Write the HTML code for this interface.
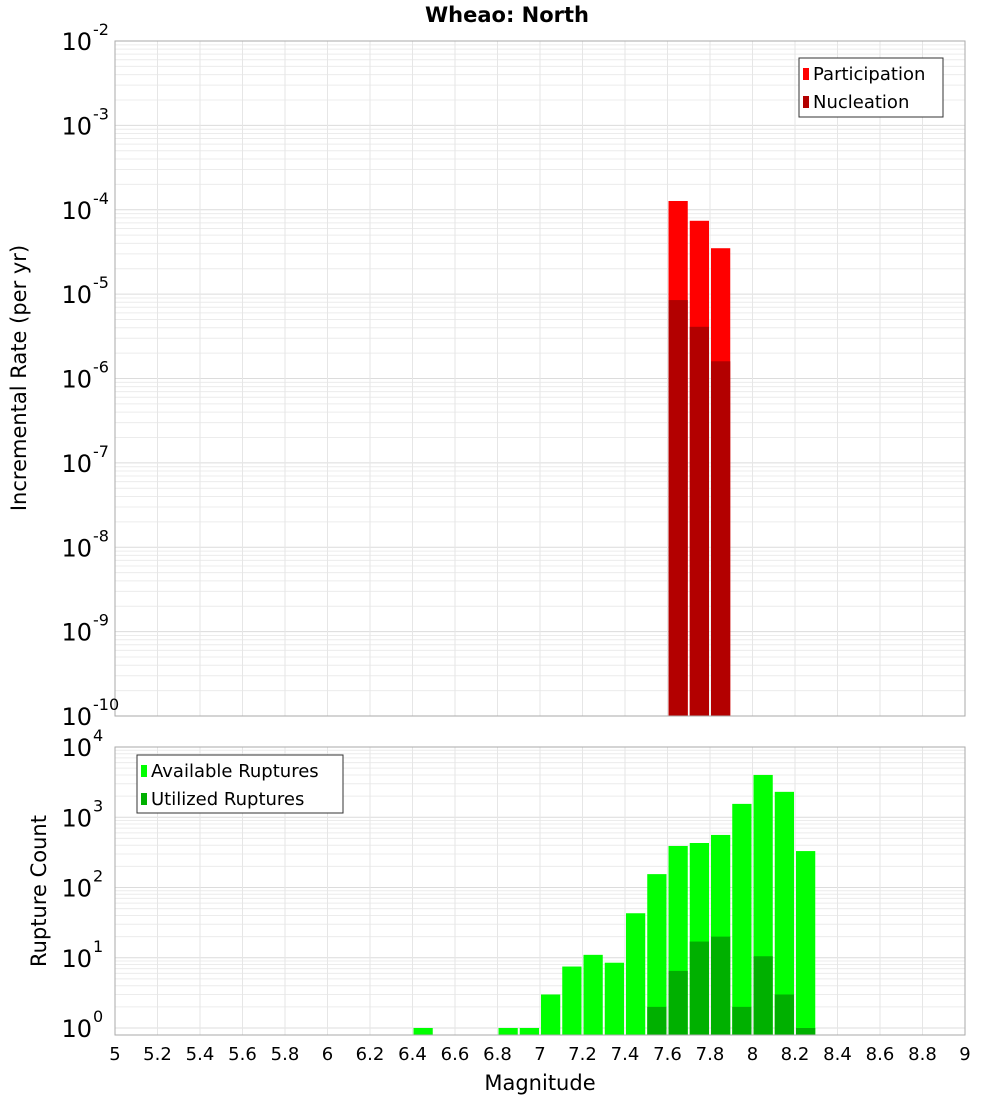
<!DOCTYPE html>
<html><head><meta charset="utf-8"><style>
body{margin:0;background:#fff;font-family:"Liberation Sans","DejaVu Sans",sans-serif}
svg text{font-family:"DejaVu Sans","Liberation Sans",sans-serif}
</style></head><body>
<svg id="c" width="1000" height="1100" xmlns="http://www.w3.org/2000/svg">
<text x="507" y="22" text-anchor="middle" font-size="21" font-weight="bold">Wheao: North</text>
<g id="top"></g>
<g id="bot"></g>
<text transform="translate(26,378) rotate(-90)" text-anchor="middle" font-size="21">Incremental Rate (per yr)</text>
<text transform="translate(46,891) rotate(-90)" text-anchor="middle" font-size="21">Rupture Count</text>
<text x="540" y="1090" text-anchor="middle" font-size="21">Magnitude</text>
</svg>
<script>
const binStarts = [7.6, 7.7, 7.8];
const participation = [1.27e-4, 7.4e-5, 3.5e-5];
const nucleation = [8.5e-6, 4.1e-6, 1.6e-6];
const countBins = [6.4, 6.8, 6.9, 7.0, 7.1, 7.2, 7.3, 7.4, 7.5, 7.6, 7.7, 7.8, 7.9, 8.0, 8.1, 8.2];
const available = [1, 1, 1, 3, 7.5, 11, 8.5, 43, 155, 390, 430, 560, 1550, 4000, 2300, 330];
const utilized = [0, 0, 0, 0, 0, 0, 0, 0, 2, 6.5, 17, 20, 2, 10.5, 3, 1];
const xTicks = [5,5.2,5.4,5.6,5.8,6,6.2,6.4,6.6,6.8,7,7.2,7.4,7.6,7.8,8,8.2,8.4,8.6,8.8,9];
const topDecades = [-10,-9,-8,-7,-6,-5,-4,-3,-2];
const botDecades = [0,1,2,3,4];

const NS="http://www.w3.org/2000/svg";
const X0=115,X1=965;
const xs=m=>X0+(m-5)/4*(X1-X0);
const yTop=v=>41+(-2-Math.log10(v))*(675/8);
const yBot=v=>1028-Math.log10(v)*70.25;
function mk(p,t,a){const e=document.createElementNS(NS,t);for(const k in a)e.setAttribute(k,a[k]);p.appendChild(e);return e;}
function grid(g,yt,y0,y1,decs){
  for(let d=decs[0];d<decs[decs.length-1];d++)for(let k=1;k<10;k++){const y=yt(k*Math.pow(10,d));if(y<y0||y>y1)continue;
    const l=mk(g,'line',{x1:X0,x2:X1,y1:y,y2:y,stroke:k==1?'#dcdcdc':'#ececec','stroke-width':1});
    }
  {const y=yt(Math.pow(10,-0.1));}
  xTicks.forEach(t=>{const l=mk(g,'line',{x1:xs(t),x2:xs(t),y1:y0,y2:y1,stroke:'#e6e6e6'});
    });
}
function ylabels(g,yt,decs){
  decs.forEach(d=>{const y=yt(Math.pow(10,d));const t=mk(g,'text',{x:92,y:y+9,'text-anchor':'end','font-size':24});
    t.textContent='10';
    const s=mk(g,'text',{x:93,y:y-6,'font-size':16});s.textContent=String(d);
    });
}
// top
const T=document.getElementById('top');
grid(T,yTop,41,716,topDecades);
binStarts.forEach((b,i)=>{
  const x=xs(b)+1,w=xs(b+0.1)-xs(b)-2;
  let r=mk(T,'rect',{x,y:yTop(participation[i]),width:w,height:716-yTop(participation[i]),fill:'#ff0000'});
  
  r=mk(T,'rect',{x,y:yTop(nucleation[i]),width:w,height:716-yTop(nucleation[i]),fill:'#b30000'});
  
});
let f=mk(T,'rect',{x:X0,y:41,width:X1-X0,height:675,fill:'none',stroke:'#aaa'});

ylabels(T,yTop,topDecades);
// bottom
const B=document.getElementById('bot');
grid(B,yBot,747,1035,botDecades);
countBins.forEach((b,i)=>{
  const x=xs(b)+1,w=xs(b+0.1)-xs(b)-2;
  let r=mk(B,'rect',{x,y:yBot(available[i]),width:w,height:1035-yBot(available[i]),fill:'#00ff00'});
  
  if(utilized[i]>0){r=mk(B,'rect',{x,y:yBot(utilized[i]),width:w,height:1035-yBot(utilized[i]),fill:'#00b000'});
  }
});
f=mk(B,'rect',{x:X0,y:747,width:X1-X0,height:288,fill:'none',stroke:'#aaa'});

ylabels(B,yBot,botDecades);
xTicks.forEach(t=>{const e=mk(B,'text',{x:xs(t),y:1060,'text-anchor':'middle','font-size':18});e.textContent=String(t);
  });
// legends
function legend(g,x,y,w,h,items){
  const lg=mk(g,'g',{});
  mk(lg,'rect',{x,y,width:w,height:h,fill:'#fff',stroke:'#333'});
  items.forEach((it,i)=>{const e=mk(lg,'g',{});
    mk(e,'rect',{x:x+4,y:y+10+i*28,width:6,height:12,fill:it[1]});
    const t=mk(e,'text',{x:x+14,y:y+22+i*28,'font-size':18});t.textContent=it[0];});
}
legend(T,799,58,144,59,[['Participation','#ff0000'],['Nucleation','#b30000']]);
legend(B,137,755,206,58,[['Available Ruptures','#00ff00'],['Utilized Ruptures','#00b000']]);
</script>
</body></html>
